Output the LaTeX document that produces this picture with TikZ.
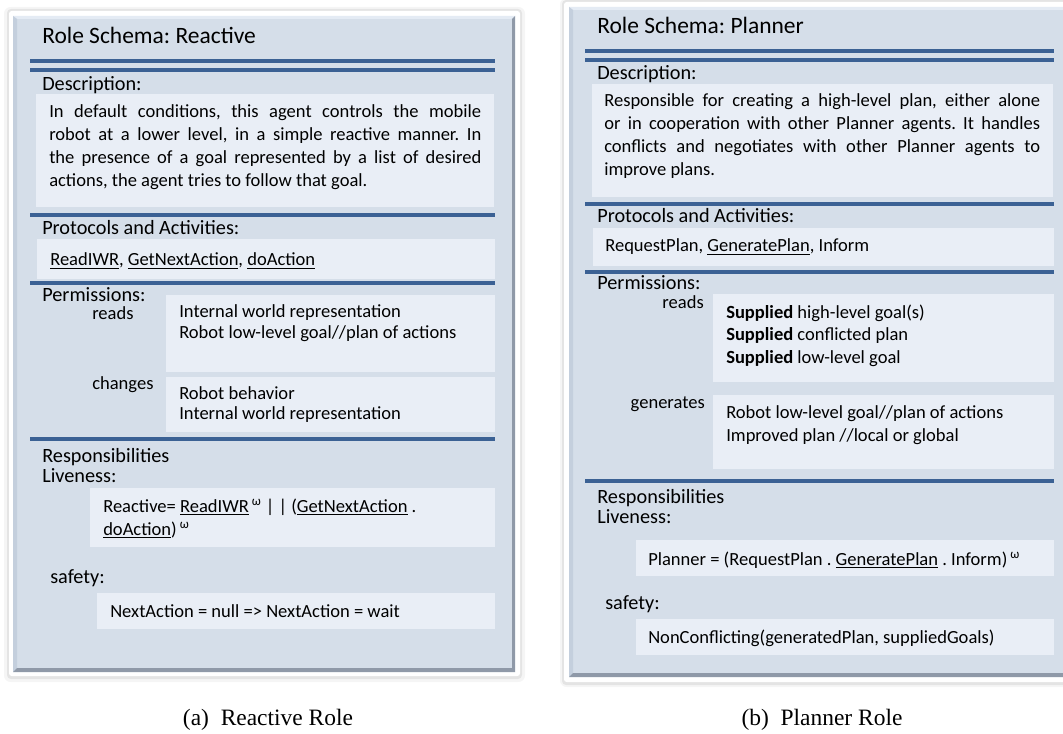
\documentclass[tikz,border=0pt]{standalone}
\usepackage{fontspec}
\setmainfont{Carlito}
\newfontfamily\capfont{Liberation Serif}
\hyphenpenalty=10000
\frenchspacing
\definecolor{rs_panel}{RGB}{213, 222, 233}
\definecolor{rs_box}{RGB}{233, 238, 246}
\definecolor{rs_line}{RGB}{59, 97, 148}
\definecolor{rs_bevel}{RGB}{143, 153, 168}
\definecolor{rs_edge}{RGB}{196, 207, 221}
\definecolor{rs_hi}{RGB}{228, 235, 244}
\tikzstyle{ttl}=[anchor=base west,inner sep=0pt,font=\fontsize{17.6}{21}\selectfont]
\tikzstyle{hd}=[anchor=base west,inner sep=0pt,align=left,
  font=\fontsize{15.2}{15.5}\selectfont]
\tikzstyle{tx}=[anchor=base west,inner sep=0pt,align=left,
  font=\fontsize{13.9}{17.25}\selectfont]
\tikzstyle{ml}=[text width=300pt,align=flush left]
\tikzstyle{bx}=[fill=rs_box]
\tikzstyle{sep}=[draw=rs_line,line width=3pt]
\tikzstyle{capt}=[anchor=base,inner sep=0pt,font=\capfont\fontsize{17.6}{21}\selectfont]

\begin{document}
\begin{tikzpicture}[x=0.75pt,y=-0.75pt]
    \useasboundingbox (0,0) rectangle (1063,734);
    % reactive panel
    \fill[black,opacity=0.04,rounded corners=5] (4,7) rectangle (525,682);
    \fill[black,opacity=0.07,rounded corners=3] (7,9) rectangle (522,679);
    \fill[white,rounded corners=2] (9,11) rectangle (520,676);
    \fill[rs_panel] (13,16) rectangle (515,672);
    \fill[rs_hi] (13,16) -- (515,16) -- (511,19) -- (17,19) -- cycle;
    \fill[rs_edge] (13,16) -- (17,19) -- (17,668) -- (13,672) -- cycle;
    \fill[rs_bevel] (13,672) -- (515,672) -- (515,16) -- (512,19) -- (512,668) -- (17,668) -- cycle;
    % planner panel
    \fill[black,opacity=0.04,rounded corners=5] (560,-2) rectangle (1070,687);
    \fill[black,opacity=0.07,rounded corners=3] (562,0) rectangle (1068,685);
    \fill[white,rounded corners=2] (564,2) rectangle (1066,682);
    \fill[rs_panel] (569,7) rectangle (1066,677);
    \fill[rs_hi] (569,7) -- (1066,7) -- (1066,10) -- (573,10) -- cycle;
    \fill[rs_edge] (569,7) -- (573,10) -- (573,673) -- (569,677) -- cycle;
    \fill[rs_bevel] (569,677) -- (1066,677) -- (1066,673) -- (573,673) -- cycle;

    % Role Schema: Reactive
    \node[ttl] (t) at (42,44) {Role Schema: Reactive};
    \draw[sep] (30,61) -- (495,61);
    \draw[sep] (30,70) -- (495,70);
    \node[hd] (d) at (42,91) {Description:};
    \fill[bx] (36,94) rectangle (494,207);
    \node[tx,text width=324pt,align=justify] (dt) at (49,118) {In default conditions, this agent controls the mobile\linebreak
      robot at a lower level, in a simple reactive manner. In\linebreak
      the presence of a goal represented by a list of desired\linebreak
      actions, the agent tries to follow that goal.};
    \draw[sep] (30,215) -- (495,215);
    \node[hd] (p) at (42,235) {Protocols and Activities:};
    \fill[bx] (37,239) rectangle (495,279);
    \node[tx] (pt) at (50,266) {\underline{ReadIWR}, \underline{GetNextAction}, \underline{doAction}};
    \draw[sep] (30,283) -- (495,283);
    \node[hd] (m) at (42,301) {Permissions:};
    \node[tx] (r) at (92,319) {reads};
    \fill[bx] (166,295) rectangle (495,372);
    \node[tx,ml,font=\fontsize{13.9}{15.75}\selectfont] (rt) at (179,317) {Internal world representation\\
      Robot low-level goal//plan of actions};
    \node[tx] (c) at (92,389) {changes};
    \fill[bx] (166,377) rectangle (495,432);
    \node[tx,ml,font=\fontsize{13.9}{15.5}\selectfont] (ct) at (179,399) {Robot behavior\\
      Internal world representation};
    \draw[sep] (30,439) -- (495,439);
    \node[hd,ml] (l) at (42,462) {Responsibilities\\Liveness:};
    \fill[bx] (90,488) rectangle (495,547);
    \node[tx,ml] (lt) at (103,512) {Reactive= \underline{ReadIWR}\,\textsuperscript{ω} | | (\underline{GetNextAction} .\\
      \underline{doAction})\,\textsuperscript{ω}};
    \node[hd] (s) at (50,583) {safety:};
    \fill[bx] (97,593) rectangle (495,629);
    \node[tx] (st) at (110,617) {NextAction = null => NextAction = wait};
    \node[capt] (ca) at (268,725) {(a)\ \ Reactive Role};

    % Role Schema: Planner
    \node[ttl] (ta) at (597,34) {Role Schema: Planner};
    \draw[sep] (585,51) -- (1054,51);
    \draw[sep] (585,60) -- (1054,60);
    \node[hd] (da) at (597,80) {Description:};
    \fill[bx] (592,84) rectangle (1053,197);
    \node[tx,text width=327pt,align=justify] (dta) at (604,107) {Responsible for creating a high-level plan, either alone\linebreak
      or in cooperation with other Planner agents. It handles\linebreak
      conflicts and negotiates with other Planner agents to\linebreak
      improve plans.};
    \draw[sep] (585,204) -- (1054,204);
    \node[hd] (pa) at (597,223) {Protocols and Activities:};
    \fill[bx] (593,228) rectangle (1054,266);
    \node[tx] (pta) at (605,252) {RequestPlan, \underline{GeneratePlan}, Inform};
    \draw[sep] (585,272) -- (1054,272);
    \node[hd] (ma) at (597,290) {Permissions:};
    \node[tx,anchor=base east] (ra) at (704,308) {reads};
    \fill[bx] (713,294) rectangle (1054,382);
    \node[tx,ml,font=\fontsize{13.9}{16.9}\selectfont] (rta) at (726,318) {\textbf{Supplied} high-level goal(s)\\
      \textbf{Supplied} conflicted plan\\
      \textbf{Supplied} low-level goal};
    \node[tx,anchor=base east] (ga) at (705,408) {generates};
    \fill[bx] (713,395) rectangle (1054,469);
    \node[tx,ml] (gta) at (726,418) {Robot low-level goal//plan of actions\\
      Improved plan //local or global};
    \draw[sep] (585,481) -- (1054,481);
    \node[hd,ml] (la) at (597,503) {Responsibilities\\Liveness:};
    \fill[bx] (636,540) rectangle (1054,576);
    \node[tx] (lta) at (648,565) {Planner = (RequestPlan . \underline{GeneratePlan} . Inform)\,\textsuperscript{ω}};
    \node[hd] (sa) at (605,609) {safety:};
    \fill[bx] (636,619) rectangle (1054,655);
    \node[tx] (sta) at (648,643) {NonConflicting(generatedPlan, suppliedGoals)};
    \node[capt] (cb) at (822,725) {(b)\ \ Planner Role};
\end{tikzpicture}
\end{document}
